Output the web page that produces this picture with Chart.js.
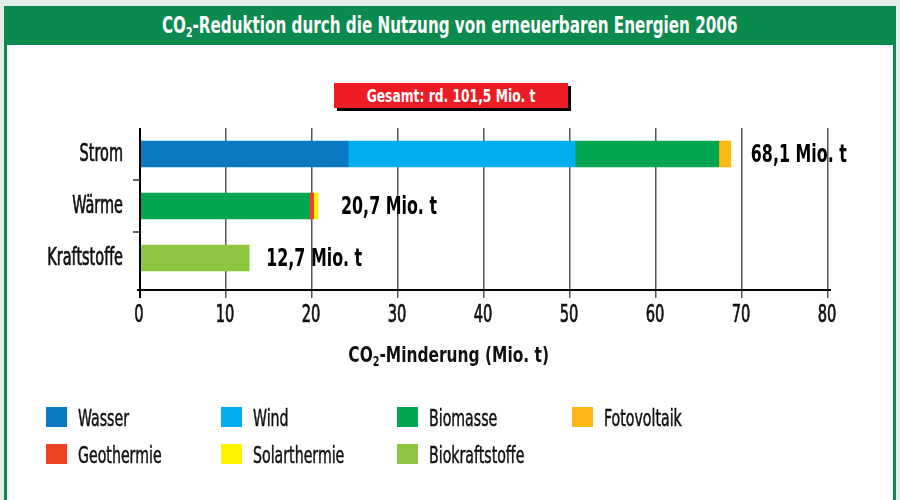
<!DOCTYPE html>
<html><head><meta charset="utf-8">
<script src="https://cdn.jsdelivr.net/npm/chart.js@4"></script>
<style>
html,body{margin:0;padding:0;}
body{width:900px;height:500px;background:#e1ede6;position:relative;overflow:hidden;font-family:"Liberation Sans Narrow","DejaVu Sans Condensed",sans-serif;}
#frame{position:absolute;left:4px;top:6px;width:886px;height:520px;background:#fff;border-left:3px solid #0b8a4e;border-right:3px solid #0b8a4e;}
#header{position:absolute;left:4px;top:6px;width:892px;height:39px;background:#0b8a4e;color:#fff;font-weight:bold;font-size:22.5px;text-align:center;line-height:39px;white-space:nowrap;}
.sq{display:inline-block;transform-origin:50% 50%;white-space:nowrap;}
#header .sq{transform:scaleX(0.75);}
sub{font-size:62%;vertical-align:-0.3em;line-height:0;}
#total{position:absolute;left:334px;top:83px;width:234px;height:25px;background:#ed1c24;box-shadow:3px 3px 0 #000;color:#fff;font-weight:bold;font-size:18px;text-align:center;line-height:25px;white-space:nowrap;}
#total .sq{transform:scaleX(0.76);}
#xtitle{position:absolute;left:0;width:898px;top:341px;height:28px;line-height:28px;text-align:center;font-weight:bold;font-size:22px;color:#111;white-space:nowrap;}
#xtitle .sq{transform:scaleX(0.78);}
canvas{position:absolute;left:0;top:0;}
.lg{position:absolute;font-size:23.5px;color:#111;line-height:20px;height:20px;white-space:nowrap;transform:scaleX(0.67);transform-origin:0 50%;-webkit-text-stroke:0.5px #111;}
.lb{position:absolute;width:21px;height:20px;}
</style>
</head><body>
<div id="frame"></div>
<div id="header"><span class="sq">CO<sub>2</sub>-Reduktion durch die Nutzung von erneuerbaren Energien 2006</span></div>
<div id="total"><span class="sq">Gesamt: rd. 101,5 Mio. t</span></div>
<canvas id="c" width="900" height="500"></canvas>
<div id="xtitle"><span class="sq">CO<sub>2</sub>-Minderung (Mio. t)</span></div>
<div id="legend"></div>
<script>
const categories = ['Strom', 'Wärme', 'Kraftstoffe'];
const seriesNames = ['Wasser', 'Wind', 'Biomasse', 'Fotovoltaik', 'Geothermie', 'Solarthermie', 'Biokraftstoffe'];
const seriesColors = ['#0a79c1', '#00aeef', '#00a651', '#fdb813', '#ef4123', '#fff200', '#8dc63f'];
const wasser = [24.2, null, null];
const wind = [26.4, null, null];
const biomasse = [16.7, 19.7, null];
const fotovoltaik = [1.4, null, null];
const geothermie = [null, 0.5, null];
const solarthermie = [null, 0.5, null];
const biokraftstoffe = [null, null, 12.7];
const totalLabels = ['68,1 Mio. t', '20,7 Mio. t', '12,7 Mio. t'];
const xMin = 0, xMax = 80, xStep = 10;

const FONT = '"Liberation Sans Narrow","DejaVu Sans Condensed",sans-serif';
const seriesData = [wasser, wind, biomasse, fotovoltaik, geothermie, solarthermie, biokraftstoffe];

function txt(ctx, s, x, y, size, bold, sx, align, stroke) {
  ctx.save();
  ctx.font = (bold ? 'bold ' : '') + size + 'px ' + FONT;
  ctx.textBaseline = 'middle';
  ctx.textAlign = 'left';
  const w = ctx.measureText(s).width * sx;
  const left = align === 'right' ? x - w : (align === 'center' ? x - w / 2 : x);
  ctx.translate(left, y);
  ctx.scale(sx, 1);
  ctx.fillText(s, 0, 0);
  if (stroke) {
    ctx.strokeStyle = ctx.fillStyle;
    ctx.lineWidth = stroke;
    ctx.strokeText(s, 0, 0);
  }
  ctx.restore();
}

const extras = {
  id: 'extras',
  afterDatasetsDraw(chart) {
    const {ctx, scales: {x, y}, chartArea} = chart;
    ctx.save();
    ctx.strokeStyle = '#000';
    ctx.lineWidth = 2;
    ctx.beginPath();
    ctx.moveTo(x.getPixelForValue(0), chartArea.top);
    ctx.lineTo(x.getPixelForValue(0), chartArea.bottom + 14);
    ctx.moveTo(x.getPixelForValue(0) - 3, chartArea.bottom + 6);
    ctx.lineTo(x.getPixelForValue(xMax) + 3, chartArea.bottom + 6);
    ctx.stroke();
    ctx.lineWidth = 1.5;
    ctx.strokeStyle = '#333';
    for (let i = 0; i < categories.length - 1; i++) {
      const py = (y.getPixelForValue(i) + y.getPixelForValue(i + 1)) / 2;
      ctx.beginPath();
      ctx.moveTo(x.getPixelForValue(0) - 7, py);
      ctx.lineTo(x.getPixelForValue(0), py);
      ctx.stroke();
    }
    ctx.fillStyle = '#111';
    categories.forEach((c, i) => {
      txt(ctx, c, 123, y.getPixelForValue(i) + 1, 24, false, 0.67, 'right', 0.7);
    });
    x.ticks.forEach(t => {
      txt(ctx, String(t.value), x.getPixelForValue(t.value) - 1, 316, 24, false, 0.68, 'center', 0.7);
    });
    ctx.fillStyle = '#000';
    const offsets = [20, 23, 17];
    categories.forEach((c, i) => {
      let sum = 0;
      seriesData.forEach(s => { sum += (s[i] || 0); });
      txt(ctx, totalLabels[i], x.getPixelForValue(sum) + offsets[i], y.getPixelForValue(i) + 2, 24.5, true, 0.72, 'left', 0);
    });
    ctx.restore();
  }
};

new Chart(document.getElementById('c'), {
  type: 'bar',
  data: {
    labels: categories,
    datasets: seriesNames.map((n, i) => ({
      label: n, data: seriesData[i], backgroundColor: seriesColors[i],
      barThickness: 26, borderWidth: 0
    }))
  },
  options: {
    indexAxis: 'y',
    responsive: false,
    animation: false,
    events: [],
    layout: {padding: {top: 128, right: 72, left: 0, bottom: 0}},
    plugins: {legend: {display: false}, title: {display: false}, tooltip: {enabled: false}},
    scales: {
      x: {
        stacked: true, min: xMin, max: xMax,
        ticks: {stepSize: xStep, display: false},
        grid: {color: '#555', lineWidth: 1.5, tickLength: 14, drawOnChartArea: true},
        border: {display: false},
        afterFit(s) { s.height = 216; }
      },
      y: {
        stacked: true,
        ticks: {display: false},
        grid: {display: false},
        border: {display: false},
        afterFit(s) { s.width = 140; }
      }
    }
  },
  plugins: [extras]
});

const legend = document.getElementById('legend');
seriesNames.forEach((n, i) => {
  const col = i % 4, row = Math.floor(i / 4);
  const bx = 46 + col * 175.3, by = 407 + row * 37;
  const b = document.createElement('div');
  b.className = 'lb';
  b.style.left = bx + 'px'; b.style.top = by + 'px'; b.style.background = seriesColors[i];
  legend.appendChild(b);
  const t = document.createElement('div');
  t.className = 'lg';
  t.style.left = (bx + 32) + 'px'; t.style.top = (by + 1) + 'px';
  t.textContent = n;
  legend.appendChild(t);
});
</script>
</body></html>
